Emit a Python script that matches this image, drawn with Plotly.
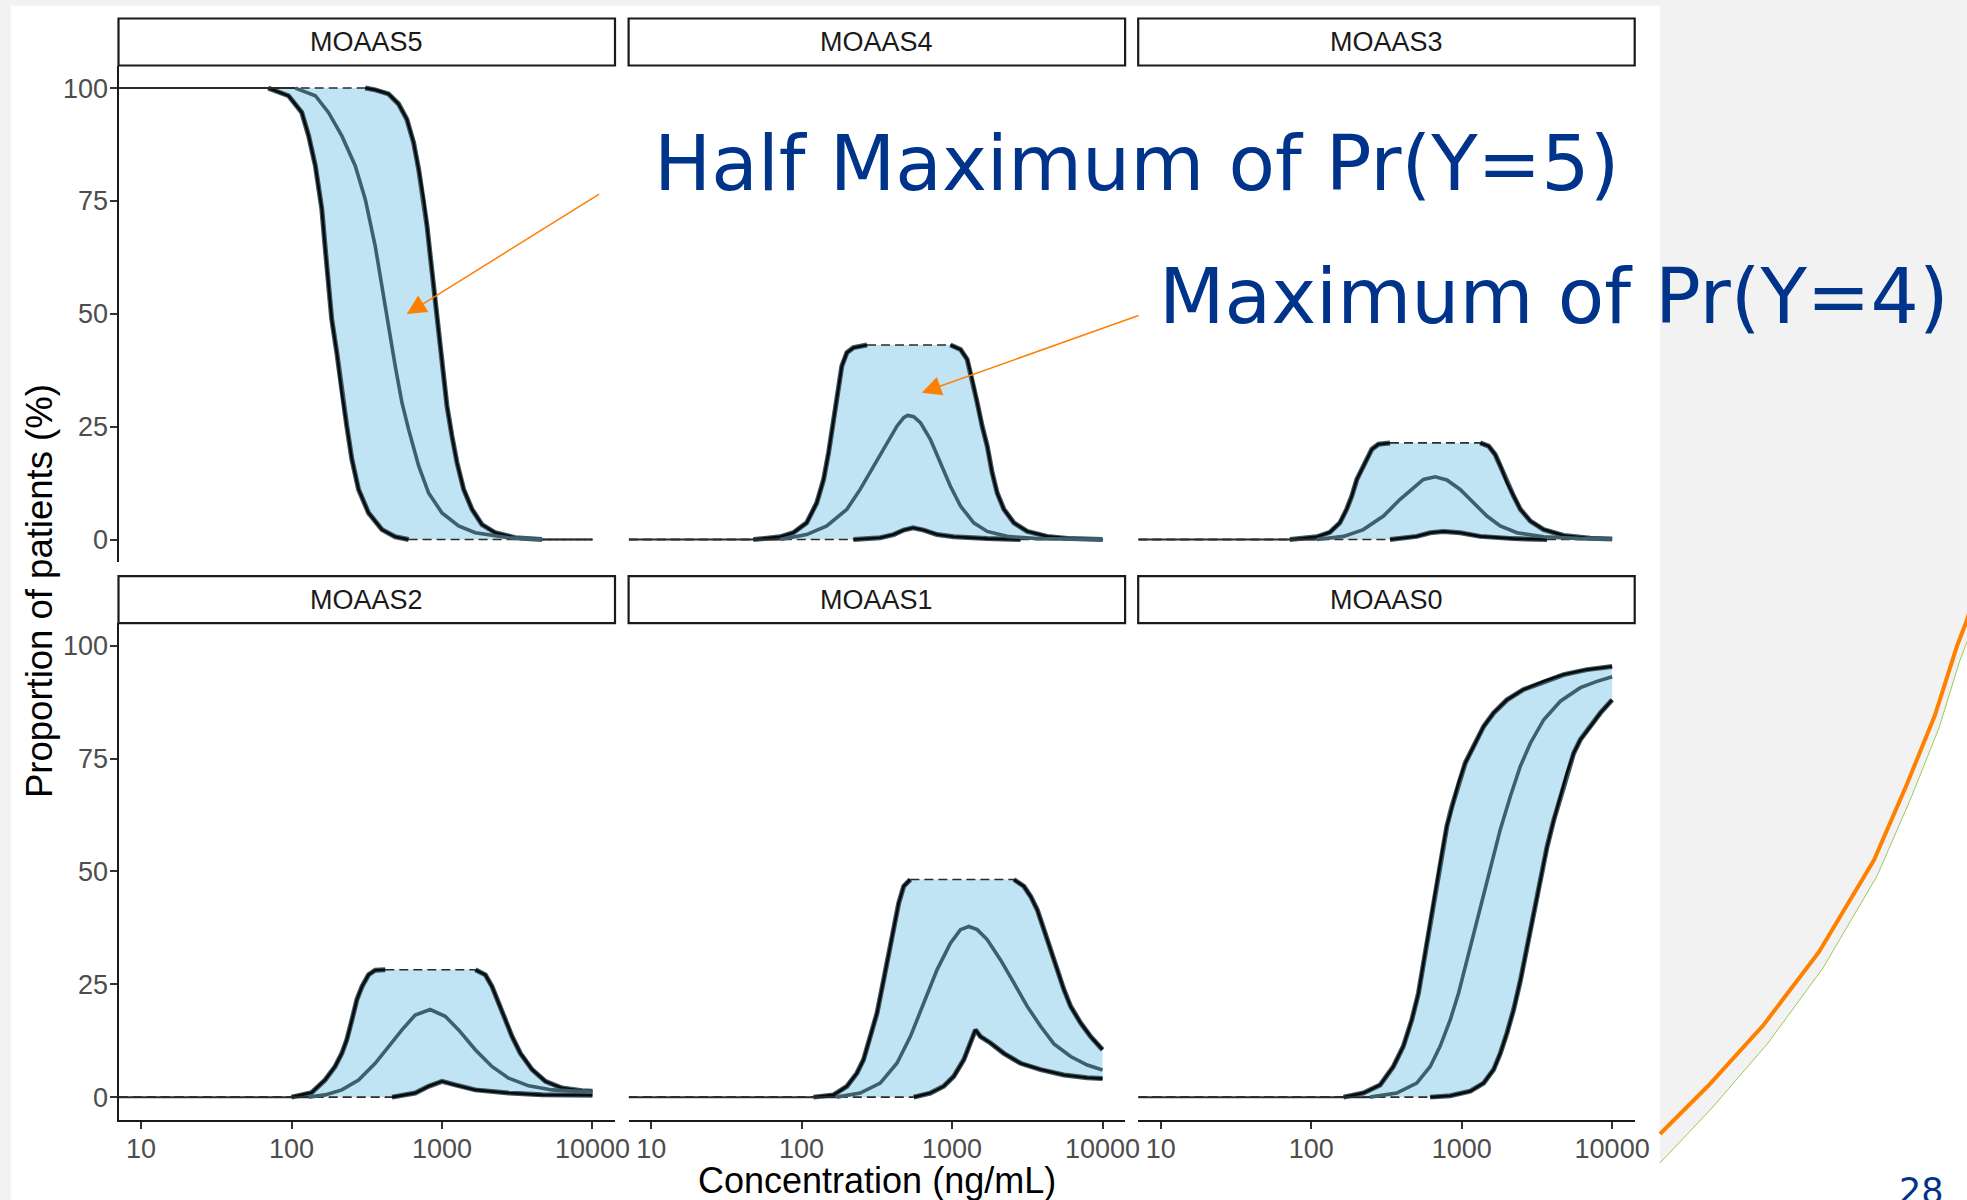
import plotly.graph_objects as go

# ---------------------------------------------------------------------------
# Data: proportion of patients (%) per MOAAS score vs concentration (ng/mL).
# Each list holds (concentration, percent) pairs for the lower bound,
# median and upper bound of the prediction band.
# ---------------------------------------------------------------------------
PANELS = ["MOAAS5", "MOAAS4", "MOAAS3", "MOAAS2", "MOAAS1", "MOAAS0"]

X_TICKS = [10, 100, 1000, 10000]
X_TICK_TEXT = ["10", "100", "1000", "10000"]
Y_TICKS = [0, 25, 50, 75, 100]
Y_TICK_TEXT = ["0", "25", "50", "75", "100"]

MOAAS5_UPPER = [(7.1, 100), (309, 100), (360, 99.6), (441, 98.7), (514, 96.5), (584, 93.1),
                (647, 88.0), (700, 82.0), (755, 75.4), (795, 69.5), (836, 62.8), (880, 56.2),
                (925, 48.8), (975, 42.1), (1025, 35.5), (1079, 29.6), (1165, 22.9), (1259, 17.0),
                (1394, 11.1), (1583, 6.7), (1845, 3.3), (2263, 1.5), (3073, 0.4), (4620, 0),
                (10000, 0)]
MOAAS5_MEDIAN = [(7.1, 100), (106, 100), (144, 98.3), (176, 94.6), (216, 89.4), (265, 82.8),
                 (309, 75.4), (360, 65.0), (398, 56.2), (441, 46.6), (489, 38.4), (542, 30.3),
                 (600, 24.4), (700, 16.3), (815, 10.3), (1000, 5.9), (1290, 3.0), (1665, 1.5),
                 (2773, 0.4), (4620, 0), (10000, 0)]
MOAAS5_LOWER = [(7.1, 100), (70, 100), (95.5, 98.3), (117, 94.6), (130, 89.4), (144, 82.8),
                (159, 73.2), (167, 65.0), (176, 56.2), (185, 48.8), (200, 41.4), (216, 32.5),
                (233, 25.1), (252, 17.7), (279, 11.1), (325, 5.9), (399, 2.2), (489, 0.6),
                (600, 0), (10000, 0)]

MOAAS4_UPPER = [(7.1, 0), (47.8, 0), (72, 0.6), (88, 1.5), (108, 3.7), (126, 8.1), (140, 13.3),
                (151, 19.2), (163, 26.6), (176, 33.3), (185, 38.4), (200, 41.4), (221, 42.5),
                (272, 43.1), (975, 43.1), (1138, 42.1), (1260, 39.9), (1360, 35.5), (1469, 30.3),
                (1585, 25.1), (1712, 20.7), (1847, 14.8), (1995, 10.3), (2209, 6.7), (2575, 3.7),
                (3159, 1.8), (4292, 0.7), (6142, 0.2), (10000, 0)]
MOAAS4_MEDIAN = [(7.1, 0), (72, 0), (108, 1.1), (147, 3.0), (200, 6.7), (245, 11.1), (301, 16.3),
                 (369, 21.4), (430, 25.1), (477, 27.0), (507, 27.5), (556, 27.2), (616, 25.9),
                 (717, 22.2), (836, 17.0), (975, 11.8), (1138, 7.4), (1394, 3.7), (1712, 1.8),
                 (2323, 0.7), (3683, 0.2), (10000, 0)]
MOAAS4_LOWER = [(7.1, 0), (221, 0), (333, 0.4), (409, 1.1), (477, 2.1), (550, 2.6), (647, 2.1),
                (794, 1.1), (1026, 0.6), (1712, 0.2), (2850, 0), (10000, 0)]

MOAAS3_UPPER = [(7.1, 0), (72, 0), (109, 0.6), (133, 1.6), (155, 3.7), (172, 6.7), (186, 9.6),
                (201, 13.3), (217, 15.5), (234, 17.7), (253, 20.0), (280, 21.1), (334, 21.4),
                (1328, 21.4), (1510, 20.7), (1672, 18.8), (1852, 15.5), (2000, 12.6), (2215, 9.6),
                (2455, 6.7), (2860, 4.1), (3510, 2.2), (4766, 0.9), (7175, 0.3), (10000, 0.1)]
MOAAS3_MEDIAN = [(7.1, 0), (109, 0), (164, 0.7), (222, 2.2), (302, 5.2), (390, 8.9), (478, 11.5),
                 (557, 13.3), (667, 13.9), (797, 13.2), (977, 11.1), (1199, 8.1), (1471, 5.2),
                 (1804, 3.0), (2329, 1.5), (3510, 0.6), (6150, 0.2), (10000, 0.1)]
MOAAS3_LOWER = [(7.1, 0), (334, 0), (503, 0.7), (618, 1.5), (757, 1.8), (977, 1.5), (1328, 0.7),
                (2215, 0.2), (3690, 0), (10000, 0)]

MOAAS2_UPPER = [(7.1, 0), (100, 0), (136, 1.0), (167, 3.8), (195, 6.8), (216, 9.7), (233, 12.7),
                (252, 17.1), (272, 21.6), (294, 24.5), (325, 27.1), (360, 28.1), (420, 28.2),
                (1667, 28.2), (1942, 27.1), (2152, 24.5), (2384, 20.8), (2639, 17.1), (2925, 13.4),
                (3322, 9.7), (3973, 6.1), (4870, 3.5), (6286, 2.0), (8531, 1.4), (10000, 1.3)]
MOAAS2_MEDIAN = [(7.1, 0), (130, 0), (167, 0.5), (216, 1.6), (279, 3.8), (360, 7.5), (441, 11.2),
                 (542, 14.9), (664, 18.2), (835, 19.4), (1051, 17.9), (1290, 14.9), (1665, 10.5),
                 (2147, 6.8), (2773, 4.2), (3770, 2.5), (5385, 1.6), (7692, 1.2), (10000, 1.1)]
MOAAS2_LOWER = [(7.1, 0), (466, 0), (664, 0.9), (815, 2.4), (1000, 3.5), (1227, 2.7), (1665, 1.6),
                (2773, 0.9), (4620, 0.5), (10000, 0.4)]

MOAAS1_UPPER = [(7.1, 0), (120, 0), (163, 0.5), (200, 2.4), (233, 5.3), (258, 8.3), (286, 13.4),
                (317, 18.6), (351, 26.0), (379, 31.9), (409, 37.1), (442, 43.0), (477, 46.7),
                (528, 48.2), (2576, 48.2), (3001, 46.7), (3325, 44.5), (3683, 41.5), (4078, 37.1),
                (4518, 32.6), (5004, 28.2), (5541, 23.8), (6139, 20.1), (7159, 16.4), (8346, 13.4),
                (10000, 10.5)]
MOAAS1_MEDIAN = [(7.1, 0), (171, 0), (245, 0.9), (333, 3.1), (430, 7.5), (528, 13.4), (648, 20.8),
                 (794, 28.2), (975, 34.1), (1137, 37.1), (1292, 37.8), (1469, 37.1), (1711, 34.9),
                 (2100, 30.4), (2576, 25.3), (3158, 20.1), (3875, 15.7), (4755, 11.8), (6139, 9.0),
                 (7924, 7.1), (10000, 6.0)]
MOAAS1_LOWER = [(7.1, 0), (556, 0), (717, 0.9), (880, 2.4), (1026, 4.6), (1197, 8.3), (1325, 11.9),
                (1430, 14.9), (1545, 13.4), (1800, 12.0), (2209, 9.7), (2851, 7.5), (3875, 6.1),
                (5541, 4.9), (7924, 4.3), (10000, 4.1)]

MOAAS0_UPPER = [(7.1, 0), (164, 0), (222, 0.9), (287, 2.7), (352, 6.8), (410, 11.3), (466, 17.1),
                (516, 23.0), (572, 31.9), (634, 40.8), (684, 48.2), (739, 54.1), (797, 60.0),
                (861, 64.4), (953, 69.6), (1056, 74.0), (1200, 77.7), (1399, 82.1), (1631, 85.1),
                (2000, 88.0), (2580, 90.3), (3510, 92.1), (4766, 93.6), (6810, 94.7), (10000, 95.4)]
MOAAS0_MEDIAN = [(7.1, 0), (246, 0), (370, 0.9), (503, 3.1), (618, 6.8), (720, 11.3), (839, 17.1),
                 (953, 23.0), (1083, 30.4), (1231, 37.1), (1399, 44.5), (1590, 51.9), (1806, 59.3),
                 (2105, 66.6), (2455, 73.3), (2860, 78.4), (3510, 83.6), (4528, 87.7), (6150, 90.7),
                 (7940, 92.1), (10000, 93.1)]
MOAAS0_LOWER = [(7.1, 0), (618, 0), (839, 0.3), (1140, 1.3), (1399, 3.1), (1631, 6.1), (1806, 9.7),
                (2000, 14.2), (2215, 19.4), (2455, 25.8), (2718, 33.2), (3009, 40.6), (3333, 48.7),
                (3690, 55.4), (4088, 61.3), (4528, 66.6), (5012, 71.8), (5555, 76.2), (6150, 79.2),
                (7175, 82.1), (8356, 85.1), (10000, 88.0)]

BANDS = {
    "MOAAS5": (MOAAS5_LOWER, MOAAS5_MEDIAN, MOAAS5_UPPER),
    "MOAAS4": (MOAAS4_LOWER, MOAAS4_MEDIAN, MOAAS4_UPPER),
    "MOAAS3": (MOAAS3_LOWER, MOAAS3_MEDIAN, MOAAS3_UPPER),
    "MOAAS2": (MOAAS2_LOWER, MOAAS2_MEDIAN, MOAAS2_UPPER),
    "MOAAS1": (MOAAS1_LOWER, MOAAS1_MEDIAN, MOAAS1_UPPER),
    "MOAAS0": (MOAAS0_LOWER, MOAAS0_MEDIAN, MOAAS0_UPPER),
}

# ---------------------------------------------------------------------------
# Page geometry (pixels) and styling
# ---------------------------------------------------------------------------
W, H = 1967, 1200
X_EXTENT = 1952          # horizontal pixel extent that paper coordinates are laid out over
COL_LEFT = [118.5, 628.6, 1138.2]
PANEL_W = 496.5
ROW_TOP = [65.5, 623.1]
PANEL_H = 496.6
STRIP_H = 47

BAND_FILL = "#c0e4f3"
EDGE_SLATE = "#3d5a67"
EDGE_BLACK = "#0a0a0a"
MEDIAN_COLOR = "#3f5f6c"
FLAT_COLOR = "#2b2b2b"
NAVY = "#00338a"
ORANGE = "#ff8000"
SANS = "Liberation Sans, Arial, sans-serif"


def px(xp):
    return xp / X_EXTENT


def py(yp):
    return 1 - yp / H


def segments(points, keep):
    """Collect the segments of a polyline that satisfy keep(y0, y1), separated by gaps."""
    xs, ys = [], []
    prev = False
    for (x0, y0), (x1, y1) in zip(points[:-1], points[1:]):
        k = keep(y0, y1)
        if k:
            if not prev:
                if xs:
                    xs.append(None)
                    ys.append(None)
                xs.append(x0)
                ys.append(y0)
            xs.append(x1)
            ys.append(y1)
        prev = k
    return xs, ys


def is_flat(a, b):
    return abs(a - b) < 1e-9


def is_sloped(a, b):
    return not is_flat(a, b)


fig = go.Figure()
layout_axes = {}
annotations = []
shapes = []

# slide background: white chart area, grey margin and the decorative arc
shapes.append(dict(type="rect", xref="paper", yref="paper", x0=px(10.7), x1=px(1660),
                   y0=0, y1=py(5.7), fillcolor="white", line=dict(width=0), layer="below"))
ARC = [(1660, 1134), (1708, 1086), (1763.5, 1025), (1819, 952), (1874, 860), (1907, 784),
       (1935, 715), (1957, 646), (1967, 620), (1975, 592)]
GREEN = [(1660, 1163), (1712, 1108), (1768, 1043), (1823, 968), (1877, 876), (1911, 798),
         (1939, 728), (1960, 660), (1967, 642), (1975, 615)]


def path_of(pts):
    return "M " + " L ".join(f"{px(a):.5f},{py(b):.5f}" for a, b in pts)


shapes.append(dict(type="path", xref="paper", yref="paper",
                   path=path_of(GREEN + [(1975, 1200), (1660, 1200)]) + " Z",
                   fillcolor="white", line=dict(width=0), layer="below"))
shapes.append(dict(type="path", xref="paper", yref="paper", path=path_of(GREEN),
                   line=dict(color="#9bc95a", width=1), layer="below"))
shapes.append(dict(type="path", xref="paper", yref="paper", path=path_of(ARC),
                   line=dict(color=ORANGE, width=4), layer="below"))

for i, name in enumerate(PANELS):
    row, col = divmod(i, 3)
    n = "" if i == 0 else str(i + 1)
    xa, ya = "x" + n, "y" + n
    left = COL_LEFT[col]
    top = ROW_TOP[row]
    lower, median, upper = BANDS[name]

    # prediction band
    fig.add_trace(go.Scatter(
        x=[p[0] for p in upper] + [p[0] for p in lower[::-1]],
        y=[p[1] for p in upper] + [p[1] for p in lower[::-1]],
        fill="toself", fillcolor=BAND_FILL, mode="lines", line=dict(width=0),
        hoverinfo="skip", showlegend=False, xaxis=xa, yaxis=ya))

    # band edges: dashed where flat, heavy where moving
    for bound in (lower, upper):
        fx, fy = segments(bound, is_flat)
        fig.add_trace(go.Scatter(x=fx, y=fy, mode="lines",
                                 line=dict(color=FLAT_COLOR, width=1.6, dash="9px,5px"),
                                 hoverinfo="skip", showlegend=False, xaxis=xa, yaxis=ya))
        sx, sy = segments(bound, is_sloped)
        fig.add_trace(go.Scatter(x=sx, y=sy, mode="lines",
                                 line=dict(color=EDGE_SLATE, width=5),
                                 hoverinfo="skip", showlegend=False, xaxis=xa, yaxis=ya))
        fig.add_trace(go.Scatter(x=sx, y=sy, mode="lines",
                                 line=dict(color=EDGE_BLACK, width=2.6),
                                 hoverinfo="skip", showlegend=False, xaxis=xa, yaxis=ya))

    # median
    mx, my = segments(median, is_flat)
    fig.add_trace(go.Scatter(x=mx, y=my, mode="lines", line=dict(color=FLAT_COLOR, width=2),
                             hoverinfo="skip", showlegend=False, xaxis=xa, yaxis=ya))
    mx, my = segments(median, is_sloped)
    fig.add_trace(go.Scatter(x=mx, y=my, mode="lines", line=dict(color=MEDIAN_COLOR, width=3.6),
                             hoverinfo="skip", showlegend=False, xaxis=xa, yaxis=ya))

    bottom_row = row == 1
    first_col = col == 0
    layout_axes["xaxis" + n] = dict(
        domain=[px(left), px(left + PANEL_W)], anchor=ya, type="log", range=[0.85, 4.15],
        tickvals=X_TICKS, ticktext=X_TICK_TEXT, showgrid=False, zeroline=False,
        showline=bottom_row, linecolor="#1a1a1a", linewidth=2,
        ticks="outside" if bottom_row else "", ticklen=7, tickwidth=1.8, tickcolor="#333333",
        ticklabelstandoff=-3,
        showticklabels=bottom_row, tickfont=dict(family=SANS, size=27, color="#4d4d4d"),
    )
    layout_axes["yaxis" + n] = dict(
        domain=[py(top + PANEL_H), py(top)], anchor=xa, range=[-5, 105],
        tickvals=Y_TICKS, ticktext=Y_TICK_TEXT, showgrid=False, zeroline=False,
        showline=first_col, linecolor="#1a1a1a", linewidth=2,
        ticks="outside" if first_col else "", ticklen=7, tickwidth=1.8, tickcolor="#333333",
        ticklabelstandoff=-4,
        showticklabels=first_col, tickfont=dict(family=SANS, size=27, color="#4d4d4d"),
    )

    # facet strip
    shapes.append(dict(type="rect", xref="paper", yref="paper",
                       x0=px(left), x1=px(left + PANEL_W), y0=py(top), y1=py(top - STRIP_H),
                       fillcolor="white", line=dict(color="#1a1a1a", width=2.2), layer="above"))
    annotations.append(dict(x=px(left + PANEL_W / 2), y=py(top - STRIP_H / 2), xref="paper",
                            yref="paper", text=name, showarrow=False, xanchor="center",
                            yanchor="middle", font=dict(family=SANS, size=27, color="#1a1a1a")))

# axis titles
annotations.append(dict(x=px(876.8), y=py(1180), xref="paper", yref="paper",
                        text="Concentration (ng/mL)", showarrow=False, xanchor="center",
                        yanchor="middle", font=dict(family=SANS, size=36, color="black")))
annotations.append(dict(x=px(40), y=py(591), xref="paper", yref="paper",
                        text="Proportion of patients (%)", showarrow=False, textangle=-90,
                        xanchor="center", yanchor="middle",
                        font=dict(family=SANS, size=36.5, color="black")))

# call-outs
annotations.append(dict(x=px(652), y=py(163), xref="paper", yref="paper",
                        text="Half Maximum of Pr(Y=5)", showarrow=False, xanchor="left",
                        yanchor="middle", font=dict(family="DejaVu Sans", size=76, color=NAVY)))
annotations.append(dict(x=px(1157), y=py(296), xref="paper", yref="paper",
                        text="Maximum of Pr(Y=4)", showarrow=False, xanchor="left",
                        yanchor="middle", font=dict(family="DejaVu Sans", size=76, color=NAVY)))
for (hx, hy), (tx, ty) in (((406.7, 314), (600.7, 193.3)), ((921.7, 392.7), (1140, 315))):
    annotations.append(dict(x=px(hx), y=py(hy), xref="paper", yref="paper",
                            ax=tx - hx, ay=ty - hy, axref="pixel", ayref="pixel", text="",
                            showarrow=True, arrowhead=2, arrowsize=2.6, arrowwidth=1.5,
                            arrowcolor=ORANGE, standoff=0))

# page number, partly below the bottom edge
annotations.append(dict(x=px(1921), y=py(1191), xref="paper", yref="paper", text="28",
                        showarrow=False, xanchor="center", yanchor="middle",
                        font=dict(family="DejaVu Sans", size=35, color=NAVY)))

fig.update_layout(
    width=W, height=H, autosize=False,
    margin=dict(l=0, r=0, t=0, b=0, pad=0),
    paper_bgcolor="#f2f2f2", plot_bgcolor="rgba(0,0,0,0)",
    showlegend=False, hovermode=False,
    shapes=shapes, annotations=annotations,
    **layout_axes,
)

fig.write_html(
    "out.html",
    post_script=(
        "document.documentElement.style.overflow='hidden';"
        "document.body.style.margin='0';document.body.style.overflow='hidden';"
    ),
)
